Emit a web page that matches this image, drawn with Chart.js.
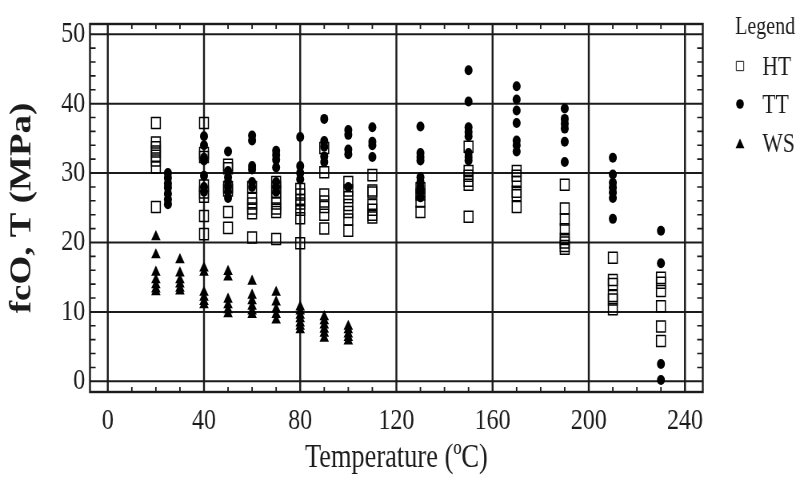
<!DOCTYPE html>
<html>
<head>
<meta charset="utf-8">
<script src="https://cdn.jsdelivr.net/npm/chart.js@4.4.1/dist/chart.umd.min.js"></script>
<style>
  html, body { margin: 0; padding: 0; background: #fff; overflow: hidden; }
  /* the reference looks squeezed sideways, so draw wide and scale down */
  #wrap { width: 998px; height: 484px; transform: scale(0.8, 1); transform-origin: 0 0; }
</style>
</head>
<body>
<div id="wrap"><canvas id="chart" width="998" height="484"></canvas></div>
<script>
// ── Data ──────────────────────────────────────────────────────────────────────

const htTemps = [20, 40, 50, 60, 70, 80, 90, 100, 110, 130, 150, 170, 190, 210, 230];
const htValues = [
  [37.2, 34.4, 33.7, 33.1, 32.5, 31.8, 30.8, 25.1],
  [37.2, 32.9, 32.3, 28.2, 27.2, 26.6, 23.8, 21.2],
  [31.2, 30.7, 28.0, 27.5, 24.4, 22.1],
  [28.0, 26.3, 25.6, 24.9, 24.2, 20.7],
  [28.7, 28.0, 27.3, 26.3, 25.6, 24.9, 24.4, 20.5],
  [27.7, 26.9, 26.1, 25.6, 24.7, 23.5, 19.9],
  [33.6, 30.1, 26.9, 25.9, 25.1, 24.0, 22.0],
  [28.7, 27.5, 26.5, 25.4, 24.4, 23.3, 21.7],
  [29.7, 27.5, 27.2, 25.4, 24.7, 24.0, 23.6],
  [27.8, 26.9, 25.9, 24.4],
  [33.8, 30.3, 29.6, 28.9, 28.3, 23.7],
  [30.3, 29.6, 28.7, 27.3, 26.8, 25.1],
  [28.3, 24.9, 23.3, 21.9, 20.5, 20.0, 19.5, 19.1],
  [17.8, 14.6, 14.0, 12.3, 11.8, 10.4],
  [14.9, 14.2, 13.0, 10.8, 7.9, 5.8],
];

const ttTemps = [25, 40, 50, 60, 70, 80, 90, 100, 110, 130, 150, 170, 190, 210, 230];
const ttValues = [
  [30.0, 29.3, 28.5, 27.9, 27.0, 26.2, 25.5],
  [35.3, 34.0, 32.2, 31.8, 29.6, 28.0, 27.3],
  [33.1, 30.3, 29.4, 28.7, 28.0, 27.3, 26.4],
  [35.4, 34.7, 31.0, 30.5, 28.7, 28.0],
  [33.2, 32.6, 31.9, 30.8, 28.7, 28.0, 27.3],
  [35.2, 31.0, 30.0, 29.1],
  [37.8, 34.6, 33.8, 32.4, 31.6],
  [36.2, 35.5, 33.4, 32.7, 28.0],
  [36.6, 34.5, 34.0, 32.3],
  [36.7, 32.9, 32.3, 31.8, 29.4, 28.7, 28.0, 27.3, 26.5],
  [44.8, 40.3, 36.6, 35.9, 35.3, 32.9, 32.3, 31.8],
  [42.5, 40.6, 39.0, 37.2, 34.7, 34.0, 33.1],
  [39.3, 37.8, 37.1, 36.4, 34.5, 31.6],
  [32.2, 29.8, 28.6, 27.9, 27.2, 26.4, 23.4],
  [21.7, 17.0, 2.5, 0.2],
];

const wsTemps = [20, 30, 40, 50, 60, 70, 80, 90, 100];
const wsValues = [
  [20.8, 18.2, 15.7, 14.6, 13.9, 13.3, 12.9],
  [17.5, 15.6, 14.6, 14.0, 13.4, 13.0],
  [16.3, 15.7, 12.8, 12.1, 11.5, 11.0],
  [15.8, 15.0, 11.8, 11.0, 10.3, 9.7],
  [14.4, 12.4, 11.6, 10.8, 10.1, 9.6],
  [12.8, 11.4, 10.4, 9.6, 8.8],
  [10.7, 10.1, 9.5, 9.0, 8.4, 7.9, 7.4],
  [9.3, 8.7, 8.1, 7.5, 6.9, 6.2],
  [7.9, 7.4, 6.8, 6.3, 5.8],
];

const xMajor = [0, 40, 80, 120, 160, 200, 240];
const xMinor = [10, 20, 30, 50, 60, 70, 90, 100, 110, 130, 140, 150, 170, 180, 190, 210, 220, 230];
const yMajor = [0, 10, 20, 30, 40, 50];
const yMinor = [2, 4, 6, 8, 12, 14, 16, 18, 22, 24, 26, 28, 32, 34, 36, 38, 42, 44, 46, 48];

const seriesNames = ['HT', 'TT', 'WS'];

// ── Helpers ───────────────────────────────────────────────────────────────────

const SERIF = "'Liberation Serif', 'Times New Roman', serif";
const INK = '#1b1b1b';

function toPoints(temps, values) {
  const pts = [];
  temps.forEach((t, i) => values[i].forEach(v => pts.push({ x: t, y: v })));
  return pts;
}

const markerStyles = [
  { pointStyle: 'rect', radius: 7.8, borderWidth: 1.5, fill: 'rgba(0,0,0,0)', legendRadius: 6.6 },
  { pointStyle: 'circle', radius: 5, borderWidth: 0, fill: '#000', legendRadius: 4.8 },
  { pointStyle: 'triangle', radius: 6.8, borderWidth: 0, fill: '#000', legendRadius: 6.4 },
];

// ── Frame / grid / minor ticks plugin ────────────────────────────────────────

const framePlugin = {
  id: 'frame',
  beforeDatasetsDraw(chart) {
    const { ctx, chartArea: a, scales: { x, y } } = chart;
    ctx.save();
    ctx.strokeStyle = INK;
    ctx.lineCap = 'butt';

    // major grid
    ctx.lineWidth = 2.4;
    ctx.beginPath();
    for (const v of xMajor) {
      const px = x.getPixelForValue(v);
      ctx.moveTo(px, a.top); ctx.lineTo(px, a.bottom);
    }
    ctx.stroke();
    ctx.lineWidth = 2;
    ctx.beginPath();
    for (const v of yMajor) {
      const py = y.getPixelForValue(v);
      ctx.moveTo(a.left, py); ctx.lineTo(a.right, py);
    }
    ctx.stroke();

    // minor ticks, inside the frame on all four sides
    ctx.lineWidth = 1.8;
    ctx.beginPath();
    for (const v of xMinor) {
      const px = x.getPixelForValue(v);
      ctx.moveTo(px, a.top); ctx.lineTo(px, a.top + 5);
      ctx.moveTo(px, a.bottom); ctx.lineTo(px, a.bottom - 5);
    }
    ctx.stroke();
    ctx.lineWidth = 1.6;
    ctx.beginPath();
    for (const v of yMinor) {
      const py = y.getPixelForValue(v);
      ctx.moveTo(a.left, py); ctx.lineTo(a.left + 7, py);
      ctx.moveTo(a.right, py); ctx.lineTo(a.right - 7, py);
    }
    ctx.stroke();

    // outer frame
    ctx.lineWidth = 2.4;
    ctx.strokeRect(a.left, a.top, a.right - a.left, a.bottom - a.top);
    ctx.restore();
  },
  afterDraw(chart) {
    // legend block on the right
    const { ctx } = chart;
    ctx.save();
    ctx.fillStyle = INK;
    ctx.textBaseline = 'alphabetic';
    ctx.font = `25px ${SERIF}`;
    ctx.fillText('Legend', 919, 34);
    const rowsMarkY = [66, 104, 145];
    const rowsTextY = [75, 113, 152];
    seriesNames.forEach((name, i) => {
      const m = markerStyles[i];
      ctx.fillStyle = m.fill;
      ctx.strokeStyle = INK;
      Chart.helpers.drawPoint(ctx, {
        pointStyle: m.pointStyle, radius: m.legendRadius,
        borderWidth: m.borderWidth || 0, rotation: 0,
      }, 925, rowsMarkY[i]);
      ctx.fillStyle = INK;
      ctx.font = `27px ${SERIF}`;
      ctx.fillText(name, 953, rowsTextY[i]);
    });
    ctx.restore();
  },
};

// ── Chart ─────────────────────────────────────────────────────────────────────

const seriesPoints = [
  toPoints(htTemps, htValues),
  toPoints(ttTemps, ttValues),
  toPoints(wsTemps, wsValues),
];

const datasets = seriesNames.map((name, i) => {
  const m = markerStyles[i];
  return {
    label: name,
    data: seriesPoints[i],
    pointStyle: m.pointStyle,
    pointRadius: m.radius,
    pointHoverRadius: m.radius,
    pointBorderWidth: m.borderWidth,
    pointBackgroundColor: m.fill,
    pointBorderColor: '#000',
    showLine: false,
  };
});

new Chart(document.getElementById('chart'), {
  type: 'scatter',
  data: { datasets },
  options: {
    responsive: false,
    animation: false,
    events: [],
    layout: { padding: { top: 14, right: 119.5, bottom: 0, left: 0 } },
    plugins: { legend: { display: false }, tooltip: { enabled: false } },
    scales: {
      x: {
        type: 'linear',
        min: -7.4,
        max: 247.4,
        afterBuildTicks: s => { s.ticks = xMajor.map(v => ({ value: v })); },
        afterFit: s => { s.height = 92; },
        grid: { display: false, drawTicks: false },
        border: { display: false },
        ticks: {
          font: { size: 30, family: SERIF },
          color: INK,
          padding: 11,
          maxRotation: 0,
        },
        title: {
          display: true,
          text: 'Temperature (ºC)',
          font: { size: 33, family: SERIF },
          color: INK,
          padding: { top: 0, bottom: 6 },
        },
      },
      y: {
        type: 'linear',
        min: -1.54,
        max: 51.47,
        afterBuildTicks: s => { s.ticks = yMajor.map(v => ({ value: v })); },
        afterFit: s => { s.width = 112.5; },
        grid: { display: false, drawTicks: false },
        border: { display: false },
        ticks: {
          font: { size: 30, family: SERIF },
          color: INK,
          padding: 6,
        },
        title: {
          display: true,
          text: 'fcO, T (MPa)',
          font: { size: 37, family: SERIF, weight: 'bold' },
          color: INK,
          padding: { top: 6, bottom: 0 },
        },
      },
    },
  },
  plugins: [framePlugin],
});
</script>
</body>
</html>
